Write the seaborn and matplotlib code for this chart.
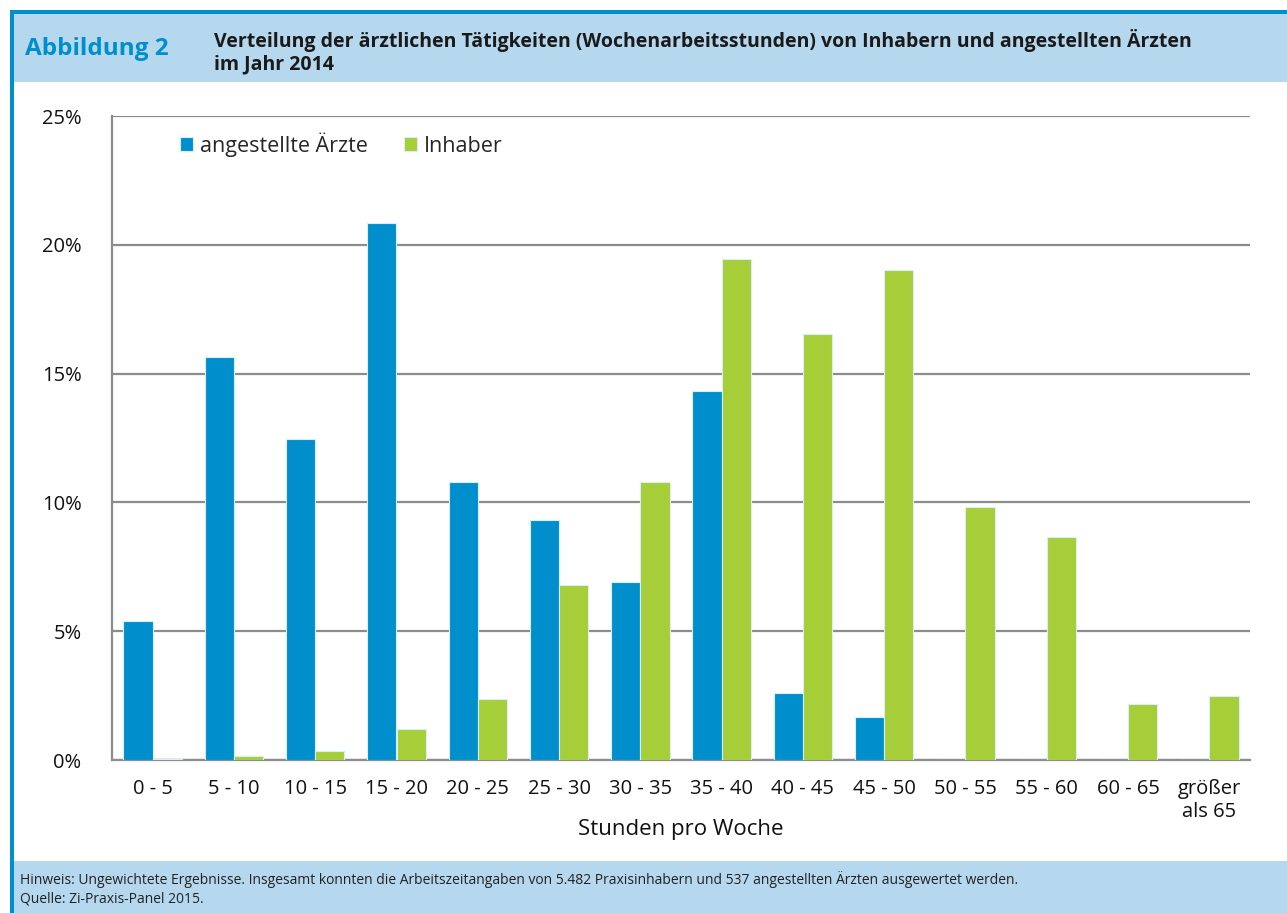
import matplotlib
matplotlib.use("Agg")
import matplotlib.pyplot as plt
import seaborn as sns
import pandas as pd
from matplotlib.patches import Rectangle

categories = ["0 - 5", "5 - 10", "10 - 15", "15 - 20", "20 - 25", "25 - 30", "30 - 35",
              "35 - 40", "40 - 45", "45 - 50", "50 - 55", "55 - 60", "60 - 65", "größer\nals 65"]
angestellte = [5.40, 15.64, 12.46, 20.85, 10.79, 9.32, 6.91, 14.32, 2.60, 1.67, 0, 0, 0, 0]
inhaber = [0.05, 0.16, 0.35, 1.20, 2.37, 6.79, 10.79, 19.45, 16.54, 19.02, 9.82, 8.66, 2.17, 2.48]
series_names = ["angestellte Ärzte", "Inhaber"]
yticks = [0, 5, 10, 15, 20, 25]
ytick_labels = ["0%", "5%", "10%", "15%", "20%", "25%"]

title_label = "Abbildung 2"
title_text = "Verteilung der ärztlichen Tätigkeiten (Wochenarbeitsstunden) von Inhabern und angestellten Ärzten\nim Jahr 2014"
note_text = "Hinweis: Ungewichtete Ergebnisse. Insgesamt konnten die Arbeitszeitangaben von 5.482 Praxisinhabern und 537 angestellten Ärzten ausgewertet werden.\nQuelle: Zi-Praxis-Panel 2015."
xlabel = "Stunden pro Woche"

df = pd.DataFrame({
    "Kategorie": categories * 2,
    "Wert": angestellte + inhaber,
    "Gruppe": [series_names[0]] * len(categories) + [series_names[1]] * len(categories),
})

sns.set_theme(style="white")
plt.rcParams["font.family"] = ["Open Sans", "DejaVu Sans"]

W, H = 1287, 913
fig = plt.figure(figsize=(W / 100, H / 100), dpi=100)

BLUE = "#008fcd"
GREEN = "#a6ce39"
BAND = "#b5d8ee"

def px(x0, y0, x1, y1, color):
    fig.patches.append(Rectangle((x0 / W, 1 - y1 / H), (x1 - x0) / W, (y1 - y0) / H,
                                 transform=fig.transFigure, color=color, zorder=0, lw=0))

px(14, 14, W, 82, BAND)
px(14, 861, W, H, BAND)
px(10, 10, W, 14, BLUE)
px(10, 10, 14, H, BLUE)

fig.text(25 / W, 1 - 49 / H, title_label, color=BLUE, fontsize=17.5, fontweight="bold",
         va="center", ha="left")
fig.text(214 / W, 1 - 52 / H, title_text, color="#1a1a1a", fontsize=14, fontweight="bold",
         va="center", ha="left", linespacing=1.15)
fig.text(20 / W, 1 - 889 / H, note_text, color="#222222", fontsize=10, va="center", ha="left",
         linespacing=1.3)

ax = fig.add_axes([112 / W, (H - 760) / H, (1250 - 112) / W, (760 - 116) / H])
sns.barplot(data=df, x="Kategorie", y="Wert", hue="Gruppe", palette=[BLUE, GREEN],
            width=0.72, ax=ax, edgecolor="#d8eef8", linewidth=0.8, saturation=1, zorder=3)

ax.set_ylim(0, 25)
ax.set_xlim(-0.5, len(categories) - 0.5)
ax.set_yticks(yticks)
ax.set_yticklabels(ytick_labels, fontsize=14.5, color="#111111")
ax.tick_params(axis="y", length=0, pad=22)
ax.tick_params(axis="x", length=0, pad=14, labelsize=14.5, colors="#111111")
for lbl in ax.get_xticklabels():
    lbl.set_linespacing(1.15)
ax.yaxis.grid(True, color="#8c8c8c", linewidth=1.6, zorder=0)
ax.set_axisbelow(True)
for s in ["top", "right"]:
    ax.spines[s].set_visible(False)
for s in ["left", "bottom"]:
    ax.spines[s].set_color("#8c8c8c")
    ax.spines[s].set_linewidth(1.6)
ax.set_ylabel("")
ax.set_xlabel(xlabel, fontsize=16, color="#111111", labelpad=-2)

ax.legend(loc="upper left", bbox_to_anchor=(0.043, 1.005), ncol=2, frameon=False,
          fontsize=15.5, handlelength=0.6, handleheight=0.6, handletextpad=0.3,
          columnspacing=1.7, title=None)

fig.savefig("out.png", dpi=100)
